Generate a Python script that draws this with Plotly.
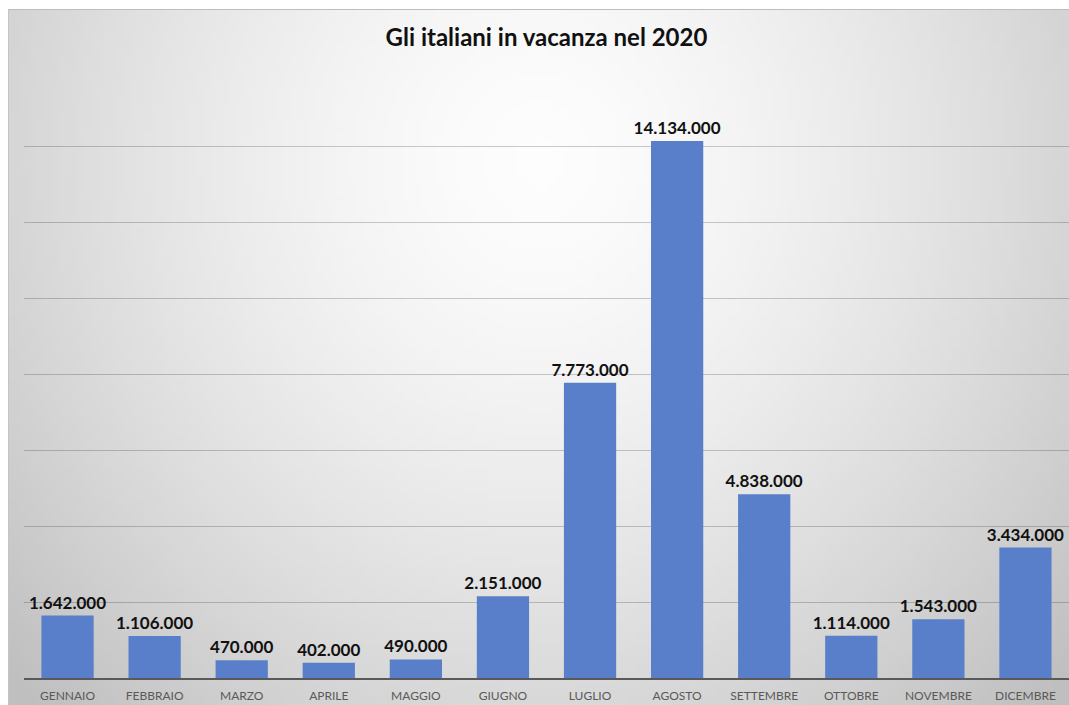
import base64, struct, zlib
import plotly.graph_objects as go

months = ["GENNAIO", "FEBBRAIO", "MARZO", "APRILE", "MAGGIO", "GIUGNO",
          "LUGLIO", "AGOSTO", "SETTEMBRE", "OTTOBRE", "NOVEMBRE", "DICEMBRE"]
vacanzieri = [1642000, 1106000, 470000, 402000, 490000, 2151000,
              7773000, 14134000, 4838000, 1114000, 1543000, 3434000]
labels = ["1.642.000", "1.106.000", "470.000", "402.000", "490.000", "2.151.000",
          "7.773.000", "14.134.000", "4.838.000", "1.114.000", "1.543.000", "3.434.000"]
title_text = "Gli italiani in vacanza nel 2020"

W, H = 1069, 705
L, R, T, B = 24, 0, 70, 27


def gradient_png(w=160, h=110):
    rows = []
    for j in range(h):
        row = bytearray([0])
        y = (j + 0.5) / h
        for i in range(w):
            x = (i + 0.5) / w
            d = (((x - 0.5) / 0.52) ** 2 + ((y - 0.22) / 0.85) ** 2) ** 0.5
            d = min(d, 1.3)
            v = int(round(253 - 42 * d ** 1.5))
            row.append(max(0, min(255, v)))
        rows.append(bytes(row))
    raw = b"".join(rows)

    def chunk(tag, data):
        c = tag + data
        return struct.pack(">I", len(data)) + c + struct.pack(">I", zlib.crc32(c) & 0xffffffff)

    png = b"\x89PNG\r\n\x1a\n"
    png += chunk(b"IHDR", struct.pack(">IIBBBBB", w, h, 8, 0, 0, 0, 0))
    png += chunk(b"IDAT", zlib.compress(raw, 9))
    png += chunk(b"IEND", b"")
    return "data:image/png;base64," + base64.b64encode(png).decode()


pw, ph = W - L - R, H - T - B
def px_x(p):
    return (p - L) / pw
def px_y(p):
    return (H - B - p) / ph

font_main = "Lato, Arial, sans-serif"

fig = go.Figure(go.Bar(
    x=months, y=vacanzieri, text=labels,
    textposition="outside", constraintext="none", cliponaxis=False,
    textfont=dict(family=font_main, size=17, color="#111111", weight="bold"),
    marker=dict(color="#5A7FCA", line=dict(width=0)),
))

fig.update_layout(
    width=W, height=H,
    margin=dict(l=L, r=R, t=T, b=B, pad=0),
    paper_bgcolor="white", plot_bgcolor="rgba(0,0,0,0)",
    bargap=0.4, showlegend=False,
    title=dict(text=title_text, x=0.5, xref="paper", xanchor="center",
               y=1 - 38 / H, yref="container", yanchor="middle",
               font=dict(family=font_main, size=24, color="#111111", weight="bold")),
    images=[dict(source=gradient_png(), xref="paper", yref="paper",
                 x=px_x(8), y=px_y(9), sizex=px_x(W) - px_x(8), sizey=px_y(9) - px_y(H),
                 xanchor="left", yanchor="top", sizing="stretch", layer="below")],
    shapes=[dict(type="line", xref="paper", yref="paper",
                 x0=px_x(8), x1=px_x(W), y0=px_y(9.5), y1=px_y(9.5),
                 line=dict(color="#bdbdbd", width=1)),
            dict(type="line", xref="paper", yref="paper",
                 x0=px_x(8.5), x1=px_x(8.5), y0=px_y(9), y1=px_y(H),
                 line=dict(color="#c4c4c4", width=1))],
)

fig.update_xaxes(showgrid=False, showline=True, linecolor="#595959", linewidth=2,
                 ticks="", ticklabelstandoff=6,
                 tickfont=dict(family=font_main, size=12, color="#595959"))
fig.update_yaxes(range=[0, 16000000], dtick=2000000, showticklabels=False,
                 showgrid=True, gridcolor="rgba(0,0,0,0.2)", gridwidth=1,
                 zeroline=False, showline=False)

fig.write_html("out.html")
